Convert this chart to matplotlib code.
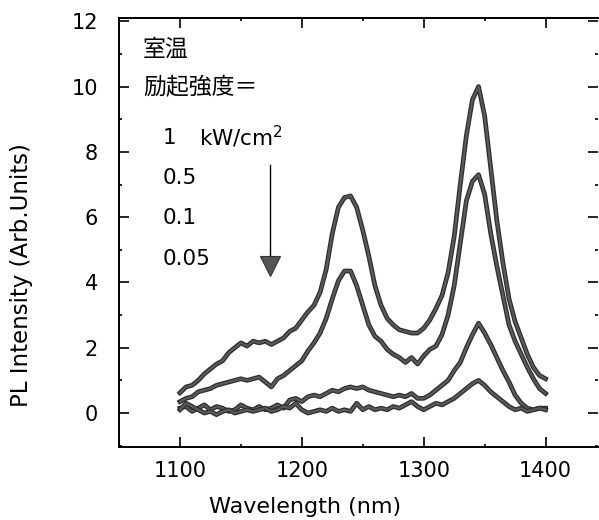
import matplotlib
matplotlib.use("Agg")
import matplotlib.pyplot as plt
import matplotlib.patheffects as pe
from matplotlib.ticker import MultipleLocator

plt.rcParams['font.family'] = ['DejaVu Sans', 'Noto Sans CJK JP']
plt.rcParams['mathtext.fontset'] = 'dejavusans'

wavelength = list(range(1100, 1401, 5))

pl_1 = [0.62, 0.8, 0.85, 1.0, 1.2, 1.35, 1.5, 1.6, 1.85, 2.0,
        2.15, 2.05, 2.2, 2.15, 2.2, 2.1, 2.2, 2.3, 2.5, 2.6,
        2.85, 3.1, 3.3, 3.7, 4.4, 5.5, 6.3, 6.6, 6.65, 6.3,
        5.6, 4.8, 3.9, 3.3, 2.9, 2.7, 2.55, 2.5, 2.45, 2.45,
        2.6, 2.85, 3.2, 3.6, 4.3, 5.4, 7.0, 8.5, 9.6, 10.0,
        9.1, 7.5, 5.9, 4.6, 3.5, 2.8, 2.3, 1.8, 1.4, 1.15, 1.05]

pl_05 = [0.35, 0.45, 0.5, 0.65, 0.7, 0.75, 0.85, 0.9, 0.95, 1.0,
         1.05, 1.0, 1.05, 1.1, 0.95, 0.8, 1.05, 1.15, 1.3, 1.45,
         1.6, 1.9, 2.15, 2.45, 2.9, 3.5, 4.05, 4.35, 4.35, 3.9,
         3.3, 2.7, 2.35, 2.2, 1.95, 1.8, 1.7, 1.55, 1.7, 1.5,
         1.75, 1.95, 2.05, 2.4, 3.0, 3.9, 5.2, 6.5, 7.1, 7.3,
         6.7, 5.5, 4.5, 3.6, 2.7, 2.2, 1.8, 1.4, 1.05, 0.75, 0.6]

pl_01 = [0.15, 0.2, 0.05, 0.15, 0.25, 0.1, 0.2, 0.15, 0.05, 0.1,
         0.25, 0.15, 0.1, 0.2, 0.1, 0.15, 0.25, 0.15, 0.4, 0.45,
         0.35, 0.5, 0.55, 0.5, 0.6, 0.7, 0.65, 0.75, 0.8, 0.75,
         0.8, 0.7, 0.65, 0.6, 0.55, 0.5, 0.55, 0.5, 0.6, 0.45,
         0.45, 0.55, 0.7, 0.85, 1.0, 1.3, 1.55, 2.0, 2.4, 2.75,
         2.45, 2.1, 1.7, 1.3, 0.95, 0.55, 0.3, 0.15, 0.1, 0.15, 0.15]

pl_005 = [0.1, 0.3, 0.2, 0.1, 0.0, 0.05, -0.05, 0.05, 0.1, 0.0,
          0.05, 0.1, 0.05, 0.1, 0.15, 0.05, 0.1, 0.2, 0.15, 0.3,
          0.1, 0.0, 0.05, 0.1, 0.05, 0.15, 0.05, 0.1, 0.05, 0.3,
          0.1, 0.2, 0.1, 0.15, 0.1, 0.2, 0.15, 0.25, 0.35, 0.2,
          0.1, 0.2, 0.3, 0.25, 0.35, 0.45, 0.6, 0.75, 0.9, 1.0,
          0.85, 0.65, 0.5, 0.35, 0.2, 0.1, 0.15, 0.05, 0.1, 0.15, 0.1]

series = [pl_1, pl_05, pl_01, pl_005]
power_values = ["1", "0.5", "0.1", "0.05"]
power_unit = r"kW/cm$^2$"
label_y = [8.42, 7.21, 5.96, 4.72]

fig = plt.figure(figsize=(5.99, 5.20), dpi=100)
ax = fig.add_axes([119/599, 1-447/520, 479/599, (447-18)/520])

for s in series:
    ax.plot(wavelength, s, color='#5a5a5a', lw=1.6,
            path_effects=[pe.Stroke(linewidth=3.4, foreground='#2e2e2e'), pe.Normal()])

ax.set_xlim(1050, 1443)
ax.set_ylim(-1.04, 12.1)
ax.set_xticks([1100, 1200, 1300, 1400])
ax.set_yticks([0, 2, 4, 6, 8, 10, 12])
ax.xaxis.set_minor_locator(MultipleLocator(50))
ax.yaxis.set_minor_locator(MultipleLocator(1))
ax.tick_params(which='both', direction='in', top=True, right=True, width=1.2, labelsize=15)
ax.tick_params(which='major', length=7)
ax.tick_params(which='minor', length=2.5)
ax.tick_params(axis='y', pad=15)
ax.tick_params(axis='x', pad=10)
for sp in ['left', 'bottom', 'top']:
    ax.spines[sp].set_linewidth(1.4)
ax.spines['right'].set_visible(False)

ax.set_xlabel("Wavelength (nm)", fontsize=16)
ax.xaxis.set_label_coords(0.3875, -0.117)
ax.xaxis.label.set_va('top')
ax.set_ylabel("PL Intensity (Arb.Units)", fontsize=16.5)
ax.yaxis.set_label_coords(-0.18, 0.40)

cjk = ['Noto Sans CJK JP', 'DejaVu Sans']
ax.text(1069.7, 11.13, "室温", fontsize=16.5, va='center', ha='left', family=cjk)
ax.text(1069.7, 9.97, "励起強度＝", fontsize=16.5, va='center', ha='left', family=cjk)
for lab, yy in zip(power_values, label_y):
    ax.text(1086, yy, lab, fontsize=15.5, va='center', ha='left')
ax.text(1116, label_y[0] + 0.05, power_unit, fontsize=15.5, va='center', ha='left')

ax.plot([1173.8, 1173.8], [7.6, 4.6], color='black', lw=1.0)
ax.plot([1173.8], [4.5], marker='v', markersize=14, color='#555555',
        markeredgecolor='#333333', markeredgewidth=0.8)

fig.savefig("out.png", dpi=100)
